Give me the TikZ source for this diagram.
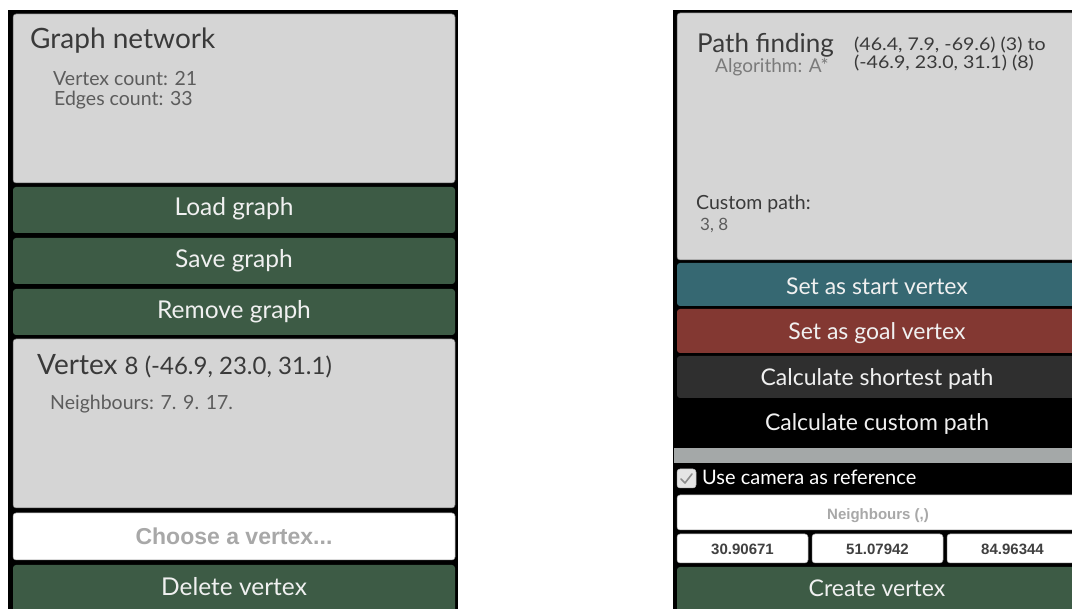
\documentclass[tikz,border=0pt]{standalone}
\usepackage{fontspec}
\setmainfont{Lato}
\newfontfamily\uifont{Liberation Sans}
\definecolor{panelgray}{HTML}{D5D5D5}
\definecolor{btngreen}{HTML}{3D5B45}
\definecolor{btnteal}{HTML}{366872}
\definecolor{btnred}{HTML}{833832}
\definecolor{btndark}{HTML}{2F2F2F}
\definecolor{stripgray}{HTML}{A4A8A8}
\definecolor{titlecol}{HTML}{3A3A3A}
\definecolor{bodycol}{HTML}{5C5C5C}
\definecolor{faintcol}{HTML}{7A7A7A}
\definecolor{hintcol}{HTML}{A8A8A8}
\definecolor{labelcol}{HTML}{F0F0F0}
\newcommand{\widetext}[1]{\scalebox{1.12}[1]{#1}}
\begin{document}
\begin{tikzpicture}[x=1pt,y=-1pt,
  box/.style={anchor=north west, inner sep=0pt, outer sep=0pt,
    rounded corners=3pt, draw=black!60, line width=0.5pt},
  panelbox/.style={box, fill=panelgray},
  btn/.style={box, draw=none, fill=#1},
  field/.style={box, fill=white, draw=black!40},
  btnlabel/.style={anchor=base, inner sep=0pt, text=labelcol,
    font=\fontsize{23}{26}\selectfont},
  bigbtnlabel/.style={btnlabel, font=\fontsize{24.5}{27}\selectfont},
  title/.style={anchor=base west, inner sep=0pt, text=titlecol,
    font=\fontsize{28}{32}\selectfont},
  body/.style={anchor=base west, inner sep=0pt, text=bodycol,
    font=\fontsize{19.5}{22}\selectfont},
  route/.style={anchor=base west, inner sep=0pt, text=titlecol,
    font=\fontsize{17.5}{19}\selectfont},
  hint/.style={anchor=base, inner sep=0pt, text=hintcol,
    font=\uifont\bfseries\fontsize{15}{18}\selectfont},
  numtext/.style={anchor=base, inner sep=0pt, text=black!75,
    font=\uifont\bfseries\fontsize{15}{18}\selectfont}]

\useasboundingbox (0,0) rectangle (1072,609);
\fill[white] (0,0) rectangle (1072,609);

% ---------- graph network panel ----------
\fill[black] (8,10) rectangle (458,615);
\node[panelbox, minimum width=442pt, minimum height=169pt] (graphinfo) at (13,14) {};
\node[title] (graphtitle) at (30,49) {Graph network};
\node[body] (vcount) at (53,86) {Vertex count: 21};
\node[body] (ecount) at (54,106) {Edges count: 33};

\node[btn=btngreen, minimum width=442pt, minimum height=46pt] (loadbtn) at (13,187) {};
\node[bigbtnlabel] (loadtxt) at (234,216) {Load graph};
\node[btn=btngreen, minimum width=442pt, minimum height=46pt] (savebtn) at (13,238) {};
\node[bigbtnlabel] (savetxt) at (234,268) {Save graph};
\node[btn=btngreen, minimum width=442pt, minimum height=46pt] (removebtn) at (13,289) {};
\node[bigbtnlabel] (removetxt) at (234,319) {Remove graph};

\node[panelbox, minimum width=442pt, minimum height=169pt] (vertexinfo) at (13,339) {};
\node[title] (vertextitle) at (37,375)
  {Vertex {\fontsize{24}{27}\selectfont 8 (-46.9, 23.0, 31.1)}};
\node[body] (neigh) at (50,410) {Neighbours: 7. 9. 17.};

\node[field, minimum width=442pt, minimum height=47pt] (choosebox) at (13,513) {};
\node[hint, font=\uifont\bfseries\fontsize{23}{25}\selectfont] (choosetxt) at (234,545) {Choose a vertex...};
\node[btn=btngreen, minimum width=442pt, minimum height=55pt] (deletebtn) at (13,565) {};
\node[bigbtnlabel] (deletetxt) at (234,596) {Delete vertex};

% ---------- path finding panel ----------
\fill[black] (673,10) rectangle (1085,615);
\node[panelbox, minimum width=405pt, minimum height=247pt] (pathinfo) at (677,13) {};
\node[title, font=\fontsize{26}{30}\selectfont] (pathtitle) at (697,53) {Path finding};
\node[route] (routefrom) at (854,51) {\widetext{(46.4, 7.9, -69.6) (3) to}};
\node[route] (routeto) at (854,69) {\widetext{(-46.9, 23.0, 31.1) (8)}};
\node[body, text=faintcol, font=\fontsize{19}{21}\selectfont] (algo) at (715,73) {Algorithm: A*};
\node[body, text=titlecol] (customtitle) at (696,210) {Custom path:};
\node[body, text=bodycol, font=\fontsize{17}{20}\selectfont] (customlist) at (700,231) {3, 8};

\node[btn=btnteal, minimum width=405pt, minimum height=43pt] (startbtn) at (677,263) {};
\node[btnlabel] (starttxt) at (877,295) {Set as start vertex};
\node[btn=btnred, minimum width=405pt, minimum height=44pt] (goalbtn) at (677,309) {};
\node[btnlabel] (goaltxt) at (877,340) {Set as goal vertex};
\node[btn=btndark, minimum width=405pt, minimum height=42pt] (shortbtn) at (677,356) {};
\node[btnlabel] (shorttxt) at (877,386) {Calculate shortest path};
\node[btnlabel] (customtxt) at (877,431) {Calculate custom path};

\fill[stripgray] (674,448) rectangle (1085,463);

% camera checkbox
\node[box, fill=black!10, draw=black!30, minimum width=19pt, minimum height=19pt] (checkbox) at (677,469) {};
\draw[black!45, line width=1.6pt, line cap=round, line join=round]
  ([shift={(4,10)}]checkbox.north west) -- ([shift={(8,14)}]checkbox.north west)
  -- ([shift={(15,5)}]checkbox.north west);
\node[anchor=base west, inner sep=0pt, text=white, font=\fontsize{20}{22}\selectfont]
  (cameratxt) at (702,485) {Use camera as reference};

\node[field, minimum width=405pt, minimum height=35pt] (neighbox) at (677,495) {};
\node[hint] (neightxt) at (878,520) {Neighbours (,)};

\node[field, minimum width=131pt, minimum height=29pt] (xbox) at (677,534) {};
\node[numtext] (xtxt) at (xbox.center |- 0,555) {30.90671};
\node[field, minimum width=131pt, minimum height=29pt] (ybox) at (812,534) {};
\node[numtext] (ytxt) at (ybox.center |- 0,555) {51.07942};
\node[field, minimum width=131pt, minimum height=29pt] (zbox) at (947,534) {};
\node[numtext] (ztxt) at (zbox.center |- 0,555) {84.96344};

\node[btn=btngreen, minimum width=405pt, minimum height=55pt] (createbtn) at (677,567) {};
\node[btnlabel] (createtxt) at (877,597) {Create vertex};
\end{tikzpicture}
\end{document}
